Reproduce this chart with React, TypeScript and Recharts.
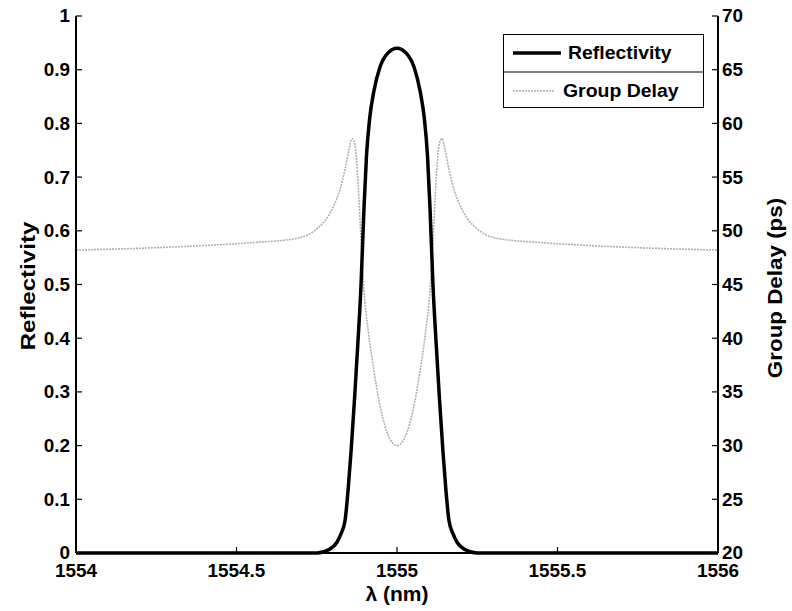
import { LineChart, Line, XAxis, YAxis, Legend } from "recharts";

const FONT = '"Liberation Sans", Arial, Helvetica, sans-serif';

// reflectivity
const wavelengthR = [
  1554, 1554.7, 1554.75, 1554.79, 1554.813, 1554.825, 1554.838, 1554.848, 1554.857, 1554.868,
  1554.878, 1554.888, 1554.897, 1554.905, 1554.915, 1554.928, 1554.947, 1554.97, 1555,
  1555.03, 1555.053, 1555.072, 1555.085, 1555.095, 1555.103, 1555.112, 1555.122, 1555.132,
  1555.143, 1555.152, 1555.162, 1555.175, 1555.187, 1555.21, 1555.25, 1555.3, 1556,
];
const reflectivity = [
  0, 0, 0, 0.007, 0.02, 0.035, 0.06, 0.12, 0.19, 0.29,
  0.39, 0.5, 0.64, 0.74, 0.81, 0.86, 0.905, 0.93, 0.94,
  0.93, 0.905, 0.86, 0.81, 0.74, 0.64, 0.5, 0.39, 0.29,
  0.19, 0.12, 0.06, 0.035, 0.02, 0.007, 0, 0, 0,
];

// group delay (ps)
const wavelengthGD = [
  1554, 1554.38, 1554.55, 1554.689, 1554.751, 1554.782, 1554.804, 1554.822, 1554.838, 1554.85,
  1554.86, 1554.869, 1554.879, 1554.888, 1554.897, 1554.91, 1554.928, 1554.95, 1554.975, 1555,
  1555.025, 1555.05, 1555.072, 1555.09, 1555.103, 1555.112, 1555.121, 1555.131, 1555.14,
  1555.15, 1555.162, 1555.178, 1555.196, 1555.218, 1555.249, 1555.311, 1555.45, 1555.62, 1556,
];
const groupDelay = [
  48.2, 48.6, 48.9, 49.3, 50.2, 51.2, 52.4, 53.8, 55.7, 57.5,
  58.6, 58.0, 54.3, 49.1, 44.5, 40.8, 37.0, 33.3, 30.8, 30.0,
  30.8, 33.3, 37.0, 40.8, 44.5, 49.1, 54.3, 58.0, 58.6,
  57.5, 55.7, 53.8, 52.4, 51.2, 50.2, 49.3, 48.9, 48.6, 48.2,
];

const xTicks = [1554, 1554.5, 1555, 1555.5, 1556];
const leftTicks = [0, 0.1, 0.2, 0.3, 0.4, 0.5, 0.6, 0.7, 0.8, 0.9, 1];
const rightTicks = [20, 25, 30, 35, 40, 45, 50, 55, 60, 65, 70];

const reflData = wavelengthR.map((w, i) => ({ w, r: reflectivity[i] }));
const gdData = wavelengthGD.map((w, i) => ({ w, gd: groupDelay[i] }));

function Txt({ x, y, children, size = 18, sx = 1.05, anchor = "middle", rotate = 0, dy }: any) {
  return (
    <text
      transform={`translate(${x},${y}) rotate(${rotate}) scale(${sx},1)`}
      textAnchor={anchor}
      dy={dy}
      fontFamily={FONT}
      fontWeight="bold"
      fontSize={size}
      fill="#000"
    >
      {children}
    </text>
  );
}

function LeftTick({ x, y, payload }: any) {
  const v = Math.round(payload.value * 10) / 10;
  return (
    <g>
      <line x1={x} x2={x + 6} y1={y} y2={y} stroke="#000" strokeWidth={1.2} />
      <Txt x={x - 6} y={y} anchor="end" dy="0.36em">{String(v)}</Txt>
    </g>
  );
}

function RightTick({ x, y, payload }: any) {
  return (
    <g>
      <line x1={x - 6} x2={x} y1={y} y2={y} stroke="#000" strokeWidth={1.2} />
      <Txt x={x + 4} y={y} anchor="start" dy="0.36em">{String(payload.value)}</Txt>
    </g>
  );
}

function BottomTick({ x, y, payload }: any) {
  return (
    <g>
      <line x1={x} x2={x} y1={y} y2={y - 6} stroke="#000" strokeWidth={1.2} />
      <Txt x={x} y={y + 24}>{String(payload.value)}</Txt>
    </g>
  );
}

function TopTick({ x, y }: any) {
  return <line x1={x} x2={x} y1={y} y2={y + 6} stroke="#000" strokeWidth={1.2} />;
}

function LegendBox() {
  return (
    <svg width={201} height={74} style={{ display: "block" }}>
      <rect x={0.5} y={0.5} width={200} height={73} fill="#fff" stroke="#000" strokeWidth={1} />
      <line x1={0} x2={201} y1={38} y2={38} stroke="#000" strokeWidth={1} />
      <line x1={10} x2={58} y1={19} y2={19} stroke="#000" strokeWidth={3.5} />
      <Txt x={65} y={25} anchor="start" sx={1.08}>Reflectivity</Txt>
      <line x1={10} x2={52} y1={57} y2={57} stroke="#b0b0b0" strokeWidth={1.6} strokeDasharray="2 1" />
      <Txt x={60} y={63} anchor="start" sx={1.08}>Group Delay</Txt>
    </svg>
  );
}

export default function App() {
  return (
    <div style={{ position: "absolute", left: 0, top: 0, width: 792, height: 611, background: "#fff" }}>
      <LineChart width={792} height={611} margin={{ top: 16, right: 0, bottom: 0, left: 0 }}>
        <XAxis
          dataKey="w"
          type="number"
          domain={[1554, 1556]}
          ticks={xTicks}
          height={58}
          tickSize={0}
          tickMargin={0}
          tick={<BottomTick />}
          axisLine={{ stroke: "#000", strokeWidth: 2 }}
          tickLine={false}
          allowDuplicatedCategory={false}
        />
        <XAxis
          xAxisId="top"
          orientation="top"
          dataKey="w"
          type="number"
          domain={[1554, 1556]}
          ticks={xTicks}
          height={0}
          tickSize={0}
          tickMargin={0}
          tick={<TopTick />}
          axisLine={{ stroke: "#000", strokeWidth: 2 }}
          tickLine={false}
          allowDuplicatedCategory={false}
        />
        <YAxis
          yAxisId="left"
          domain={[0, 1]}
          ticks={leftTicks}
          width={76}
          tickSize={0}
          tickMargin={0}
          tick={<LeftTick />}
          axisLine={{ stroke: "#000", strokeWidth: 2 }}
          tickLine={false}
        />
        <YAxis
          yAxisId="right"
          orientation="right"
          domain={[20, 70]}
          ticks={rightTicks}
          width={74}
          tickSize={0}
          tickMargin={0}
          tick={<RightTick />}
          axisLine={{ stroke: "#000", strokeWidth: 2 }}
          tickLine={false}
        />
        <Line
          yAxisId="right"
          data={gdData}
          dataKey="gd"
          type="monotone"
          stroke="#b0b0b0"
          strokeWidth={1.6}
          strokeDasharray="2 1"
          dot={false}
          isAnimationActive={false}
          name="Group Delay"
        />
        <Line
          yAxisId="left"
          data={reflData}
          dataKey="r"
          type="monotone"
          stroke="#000"
          strokeWidth={3.5}
          dot={false}
          isAnimationActive={false}
          name="Reflectivity"
        />
        <Legend
          layout="vertical"
          verticalAlign="middle"
          align="center"
          wrapperStyle={{ top: 34, left: 503, width: 201, height: 74 }}
          content={() => <LegendBox />}
        />
      </LineChart>
      <svg
        width={792}
        height={611}
        style={{ position: "absolute", left: 0, top: 0, pointerEvents: "none" }}
      >
        <Txt x={397} y={601} size={20} sx={1.05}>λ (nm)</Txt>
        <Txt x={35} y={286} size={21} sx={1.15} rotate={-90}>Reflectivity</Txt>
        <Txt x={782} y={288} size={20} sx={1.12} rotate={-90}>Group Delay (ps)</Txt>
      </svg>
    </div>
  );
}
